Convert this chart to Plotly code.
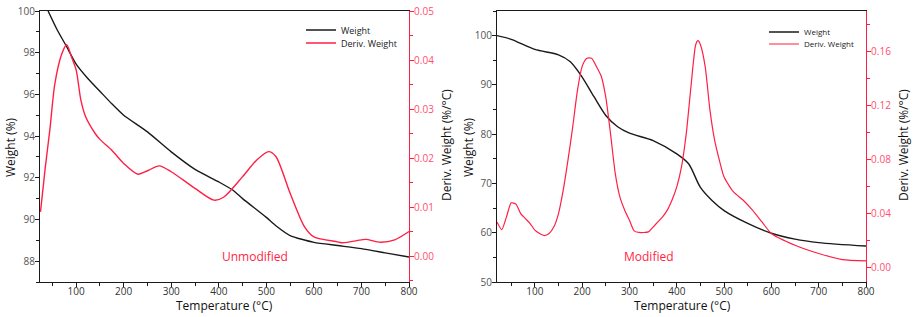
import plotly.graph_objects as go

# ---- Unmodified (left panel) ----
unmod_w_temp = [41, 60, 80, 100, 125, 150, 175, 200, 250, 300, 350, 400, 430, 450, 500, 520, 550, 600, 650, 700, 750, 800]
unmod_w_val = [100.0, 99.1, 98.29, 97.45, 96.75, 96.15, 95.55, 95.0, 94.2, 93.24, 92.4, 91.8, 91.4, 91.0, 90.1, 89.7, 89.23, 88.9, 88.75, 88.6, 88.4, 88.2]

unmod_d_temp = [25, 35, 45, 55, 69, 80, 90, 100, 110, 120, 140, 150, 175, 200, 230, 250, 275, 300, 350, 390, 410, 450, 480, 505, 520, 550, 580, 600, 650, 660, 700, 710, 740, 770, 800]
unmod_d_val = [0.009, 0.018, 0.026, 0.035, 0.041, 0.0431, 0.0407, 0.038, 0.0318, 0.0284, 0.025, 0.0238, 0.0216, 0.0189, 0.0167, 0.0174, 0.0184, 0.0172, 0.0138, 0.0114, 0.012, 0.0162, 0.0196, 0.0213, 0.0203, 0.0128, 0.006, 0.0039, 0.0029, 0.0027, 0.0033, 0.0034, 0.0028, 0.0033, 0.005]

# ---- Modified (right panel) ----
mod_w_temp = [20, 50, 100, 150, 175, 200, 225, 250, 275, 300, 350, 400, 425, 450, 475, 500, 550, 600, 650, 700, 800]
mod_w_val = [100.0, 99.25, 97.2, 96.1, 94.7, 91.6, 87.6, 83.8, 81.5, 80.2, 78.7, 76.0, 74.0, 69.2, 66.5, 64.5, 61.9, 59.9, 58.7, 58.0, 57.3]

mod_d_temp = [20, 30, 40, 50, 60, 70, 80, 90, 100, 110, 120, 130, 140, 150, 160, 170, 180, 190, 200, 210, 220, 230, 240, 250, 260, 270, 280, 290, 300, 310, 320, 340, 350, 360, 370, 380, 390, 400, 410, 420, 430, 440, 445, 450, 460, 470, 480, 490, 500, 520, 540, 560, 580, 600, 650, 700, 750, 800]
mod_d_val = [0.0338, 0.0281, 0.0375, 0.0479, 0.047, 0.04, 0.0363, 0.0326, 0.0277, 0.0252, 0.0237, 0.0252, 0.030, 0.040, 0.0573, 0.0795, 0.104, 0.131, 0.149, 0.155, 0.155, 0.149, 0.142, 0.126, 0.099, 0.0696, 0.052, 0.0425, 0.035, 0.0272, 0.026, 0.0264, 0.030, 0.0338, 0.0375, 0.0425, 0.050, 0.0598, 0.0746, 0.099, 0.134, 0.165, 0.168, 0.165, 0.149, 0.117, 0.0943, 0.0795, 0.067, 0.056, 0.050, 0.0425, 0.0338, 0.0252, 0.0165, 0.0104, 0.0059, 0.0049]

BLACK = "#1a1a1a"
RED = "#ff1f45"
FONT = "Open Sans"
W, H = 913, 317

fig = go.Figure()
fig.add_trace(go.Scatter(x=unmod_w_temp, y=unmod_w_val, mode="lines", name="Weight",
                         line=dict(color=BLACK, width=1.4, shape="spline", smoothing=0.6),
                         xaxis="x", yaxis="y", legend="legend"))
fig.add_trace(go.Scatter(x=unmod_d_temp, y=unmod_d_val, mode="lines", name="Deriv. Weight",
                         line=dict(color=RED, width=1.4, shape="spline", smoothing=0.8),
                         xaxis="x", yaxis="y2", legend="legend2"))
fig.add_trace(go.Scatter(x=mod_w_temp, y=mod_w_val, mode="lines", name="Weight",
                         line=dict(color=BLACK, width=1.4, shape="spline", smoothing=0.8),
                         xaxis="x2", yaxis="y3", legend="legend3"))
fig.add_trace(go.Scatter(x=mod_d_temp, y=mod_d_val, mode="lines", name="Deriv. Weight",
                         line=dict(color=RED, width=1.2, shape="spline", smoothing=0.6),
                         xaxis="x2", yaxis="y4", legend="legend4"))

yd = [1 - 282 / H, 1 - 11 / H]
tickfont = dict(family=FONT, size=10, color="#555555")
redtick = dict(family=FONT, size=10, color="#ff5070")
TITLE_SIZE = 12


def xax(domain, rng, anchor):
    return dict(domain=domain, range=rng, anchor=anchor, showline=True, linecolor=BLACK, linewidth=1.2,
                mirror=True, ticks="outside", ticklen=4, tickcolor=BLACK, dtick=100, tick0=0,
                minor=dict(ticks="outside", ticklen=3, dtick=50, tickcolor=BLACK),
                showgrid=False, zeroline=False, tickfont=dict(family=FONT, size=10, color="#333333"),
                automargin=False, ticklabelstandoff=-4)


def yleft(rng, dtick, mdtick, anchor):
    return dict(domain=yd, range=rng, anchor=anchor, showline=True, linecolor=BLACK, linewidth=1.2,
                ticks="outside", ticklen=4, tickcolor=BLACK, dtick=dtick, tick0=0,
                minor=dict(ticks="outside", ticklen=3, dtick=mdtick, tickcolor=BLACK),
                showgrid=False, zeroline=False, tickfont=tickfont, automargin=False,
                ticklabelstandoff=-2)


def yright(rng, dtick, mdtick, anchor, overlay, fmt):
    return dict(domain=yd, range=rng, anchor=anchor, overlaying=overlay, side="right", showline=True,
                linecolor=RED, linewidth=1.2, ticks="outside", ticklen=4, tickcolor=RED, dtick=dtick, tick0=0,
                minor=dict(ticks="outside", ticklen=3, dtick=mdtick, tickcolor=RED),
                showgrid=False, zeroline=False, tickfont=redtick, tickformat=fmt, automargin=False,
                ticklabelstandoff=-2)


def leg(x, y, size):
    return dict(x=x / W, y=1 - y / H, xanchor="left", yanchor="middle", bgcolor="rgba(0,0,0,0)",
                font=dict(family=FONT, size=size, color="#222"), tracegroupgap=0, itemwidth=30,
                borderwidth=0)


def title(text, x, y, angle=0):
    return dict(text=text, x=x / W, y=1 - y / H, xref="paper", yref="paper", showarrow=False,
                textangle=angle, xanchor="center", yanchor="middle",
                font=dict(family=FONT, size=TITLE_SIZE, color="#111111"))


fig.update_layout(
    width=W, height=H, margin=dict(l=0, r=0, t=0, b=0, autoexpand=False),
    paper_bgcolor="white", plot_bgcolor="white",
    xaxis=xax([40 / W, 409 / W], [24, 800], "y"),
    yaxis=yleft([87, 100], 2, 1, "x"),
    yaxis2=yright([-0.0053, 0.05], 0.01, 0.005, "x", "y", ".2f"),
    xaxis2=xax([497 / W, 866 / W], [20, 800], "y3"),
    yaxis3=yleft([50, 105], 10, 5, "x2"),
    yaxis4=yright([-0.0107, 0.19], 0.04, 0.02, "x2", "y3", ".2f"),
    legend=leg(301, 30, 9),
    legend2=leg(301, 43, 9),
    legend3=leg(764, 32, 8),
    legend4=leg(764, 44, 8),
    annotations=[
        title("Temperature (°C)", 224, 305),
        title("Temperature (°C)", 682, 305),
        title("Weight (%)", 10, 147, -90),
        title("Deriv. Weight (%/°C)", 446, 145, -90),
        title("Weight (%)", 468, 147, -90),
        title("Deriv. Weight (%/°C)", 903, 145, -90),
        dict(text="Unmodified", x=220 / W, y=1 - 267 / H, xref="paper", yref="paper", showarrow=False,
             font=dict(family=FONT, size=12, color=RED)),
        dict(text="Modified", x=676 / W, y=1 - 267 / H, xref="paper", yref="paper", showarrow=False,
             font=dict(family=FONT, size=12, color=RED)),
    ],
    showlegend=True,
)

fig.write_html("out.html", config={"displayModeBar": False},
               post_script="document.body.style.margin='0';document.body.style.overflow='hidden';")
